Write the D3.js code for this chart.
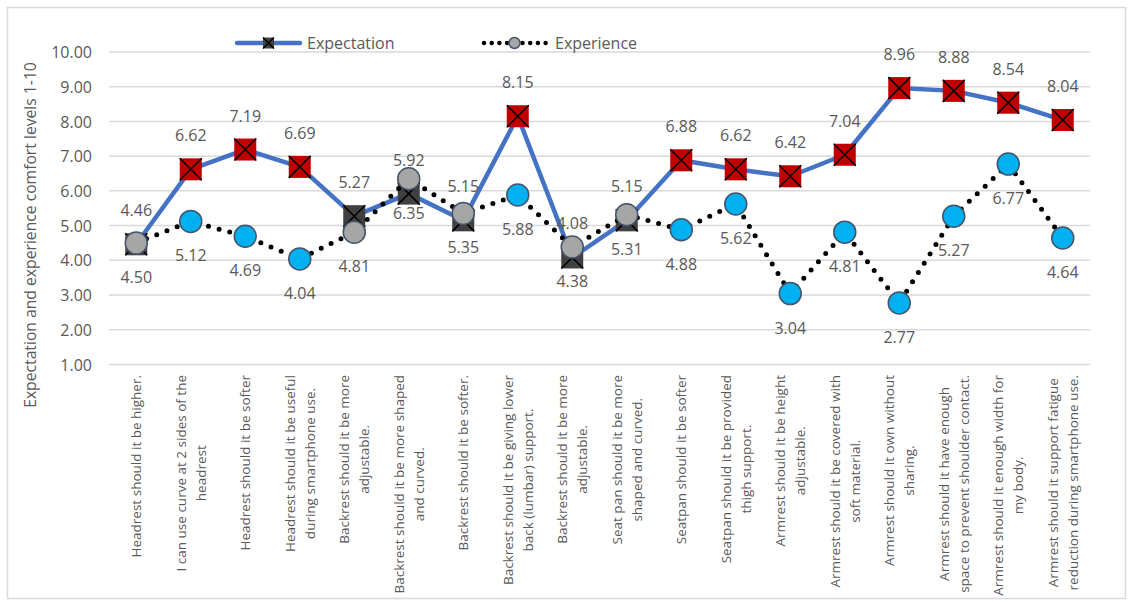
<!DOCTYPE html>
<html>
<head>
<meta charset="utf-8">
<script src="https://cdn.jsdelivr.net/npm/d3@7"></script>
<style>
  html, body { margin: 0; padding: 0; background: #fff; }
  svg { display: block; }
  text { font-family: "Open Sans", "Noto Sans", sans-serif; fill: #595959; }
</style>
</head>
<body>
<svg id="chart" width="1131" height="606"></svg>
<script>
// Survey items (each entry lists the lines of its axis label)
const categories = [
  ["Headrest should it be higher."],
  ["I can use curve at 2 sides of the", "headrest"],
  ["Headrest should it be softer"],
  ["Headrest should it be useful", "during smartphone use."],
  ["Backrest should it be more", "adjustable."],
  ["Backrest should it be more shaped", "and curved."],
  ["Backrest should it be softer."],
  ["Backrest should it be  giving lower", "back (lumbar) support."],
  ["Backrest should it be more", "adjustable."],
  ["Seat pan should it be more", "shaped and curved."],
  ["Seatpan should it be softer"],
  ["Seatpan should it be provided", "thigh support."],
  ["Armrest should it be height", "adjustable."],
  ["Armrest should it be covered with", "soft material."],
  ["Armrest should it own without", "sharing."],
  ["Armrest should it have enough", "space to prevent shoulder contact."],
  ["Armrest should it enough width for", "my body."],
  ["Armrest should it support fatigue", "reduction during smartphone use."]
];

const expectation = [4.46, 6.62, 7.19, 6.69, 5.27, 5.92, 5.15, 8.15, 4.08,
                     5.15, 6.88, 6.62, 6.42, 7.04, 8.96, 8.88, 8.54, 8.04];
const experience  = [4.50, 5.12, 4.69, 4.04, 4.81, 6.35, 5.35, 5.88, 4.38,
                     5.31, 4.88, 5.62, 3.04, 4.81, 2.77, 5.27, 6.77, 4.64];

const yTicks = [1, 2, 3, 4, 5, 6, 7, 8, 9, 10];
const seriesNames = ["Expectation", "Experience"];

// Items whose expectation stays under this score get the muted marker style
const highExpectation = 6;

const svg = d3.select("#chart");

// chart frame
svg.append("rect")
  .attr("x", 7.5).attr("y", 7.5).attr("width", 1118).attr("height", 591)
  .attr("fill", "none").attr("stroke", "#d9d9d9").attr("stroke-width", 1.5);

const plot = { left: 109, right: 1090, top: 52, bottom: 364.4 };

const x = d3.scaleBand()
  .domain(d3.range(categories.length))
  .range([plot.left, plot.right]);
const cx = i => x(i) + x.bandwidth() / 2;

const y = d3.scaleLinear().domain([1, 10]).range([plot.bottom, plot.top]);

// horizontal gridlines
svg.append("g")
  .selectAll("line")
  .data(yTicks)
  .join("line")
  .attr("x1", plot.left).attr("x2", plot.right)
  .attr("y1", d => y(d)).attr("y2", d => y(d))
  .attr("stroke", "#d9d9d9").attr("stroke-width", 1.5);

// y axis tick labels
const yAxis = d3.axisLeft(y).tickValues(yTicks).tickFormat(d3.format(".2f")).tickSize(0).tickPadding(0);
const yg = svg.append("g").attr("transform", "translate(92,0)").call(yAxis);
yg.select(".domain").remove();
yg.selectAll("text")
  .attr("font-size", 16)
  .style("font-family", "'Open Sans', sans-serif")
  .attr("fill", "#595959")
  .attr("dy", "0.35em");

// y axis title
svg.append("text")
  .attr("transform", "translate(30,235) rotate(-90)")
  .attr("text-anchor", "middle")
  .attr("dominant-baseline", "central")
  .attr("font-size", 15.7)
  .text("Expectation and experience comfort levels 1-10");

// category labels, rotated, top-aligned under the plot
const labelTop = 375;
const lineGap = 20;
categories.forEach((lines, i) => {
  const g = svg.append("g")
    .attr("transform", `translate(${cx(i)},${labelTop}) rotate(-90)`);
  const texts = lines.map((ln, k) => g.append("text")
    .attr("font-size", 13.5)
    .attr("text-anchor", "middle")
    .attr("dominant-baseline", "central")
    .attr("y", (k - (lines.length - 1) / 2) * lineGap)
    .text(ln));
  const maxW = d3.max(texts, t => t.node().getComputedTextLength());
  texts.forEach(t => t.attr("x", -maxW / 2));
});

// marker helpers
function squareMarker(g, px, py, size, fill) {
  const h = size / 2;
  g.append("rect")
    .attr("x", px - h).attr("y", py - h)
    .attr("width", size).attr("height", size)
    .attr("fill", fill);
  g.append("path")
    .attr("d", `M${px - h},${py - h}L${px + h},${py + h}M${px + h},${py - h}L${px - h},${py + h}`)
    .attr("stroke", "#000").attr("stroke-width", 1.5);
}
function circleMarker(g, px, py, r, fill) {
  g.append("circle")
    .attr("cx", px).attr("cy", py).attr("r", r)
    .attr("fill", fill).attr("stroke", "#44546a").attr("stroke-width", 1.5);
}

const lineGen = d3.line().x((d, i) => cx(i)).y(d => y(d));

// Expectation series
svg.append("path")
  .datum(expectation)
  .attr("d", lineGen)
  .attr("fill", "none")
  .attr("stroke", "#4472c4")
  .attr("stroke-width", 4.5)
  .attr("stroke-linejoin", "round");

const expMarks = svg.append("g");
expectation.forEach((v, i) => {
  squareMarker(expMarks, cx(i), y(v), 22, v < highExpectation ? "#404040" : "#c00000");
});

// Experience series
svg.append("path")
  .datum(experience)
  .attr("d", lineGen)
  .attr("fill", "none")
  .attr("stroke", "#000")
  .attr("stroke-width", 5)
  .attr("stroke-linecap", "round")
  .attr("stroke-dasharray", "0,11");

const xpMarks = svg.append("g");
experience.forEach((v, i) => {
  circleMarker(xpMarks, cx(i), y(v), 11, expectation[i] < highExpectation ? "#a6a6a6" : "#00b0f0");
});

// value labels: expectation above, experience below
const fmt = d3.format(".2f");
svg.append("g")
  .selectAll("text")
  .data(expectation)
  .join("text")
  .attr("x", (d, i) => cx(i))
  .attr("y", d => y(d) - 34)
  .attr("text-anchor", "middle")
  .attr("dominant-baseline", "central")
  .attr("font-size", 16)
  .text(d => fmt(d));

svg.append("g")
  .selectAll("text")
  .data(experience)
  .join("text")
  .attr("x", (d, i) => cx(i))
  .attr("y", d => y(d) + 34)
  .attr("text-anchor", "middle")
  .attr("dominant-baseline", "central")
  .attr("font-size", 16)
  .text(d => fmt(d));

// legend
const legend = svg.append("g");
const ly = 43;
legend.append("line")
  .attr("x1", 237).attr("x2", 300).attr("y1", ly).attr("y2", ly)
  .attr("stroke", "#4472c4").attr("stroke-width", 4.5).attr("stroke-linecap", "round");
squareMarker(legend, 268.5, ly, 11, "#404040");
legend.append("text")
  .attr("x", 307).attr("y", ly).attr("dominant-baseline", "central")
  .attr("font-size", 16).text(seriesNames[0]);

legend.append("line")
  .attr("x1", 484).attr("x2", 546).attr("y1", ly).attr("y2", ly)
  .attr("stroke", "#000").attr("stroke-width", 4.5).attr("stroke-linecap", "round")
  .attr("stroke-dasharray", "0,7.7");
circleMarker(legend, 514.5, ly, 5.5, "#a6a6a6");
legend.append("text")
  .attr("x", 555).attr("y", ly).attr("dominant-baseline", "central")
  .attr("font-size", 16).text(seriesNames[1]);
</script>
</body>
</html>
